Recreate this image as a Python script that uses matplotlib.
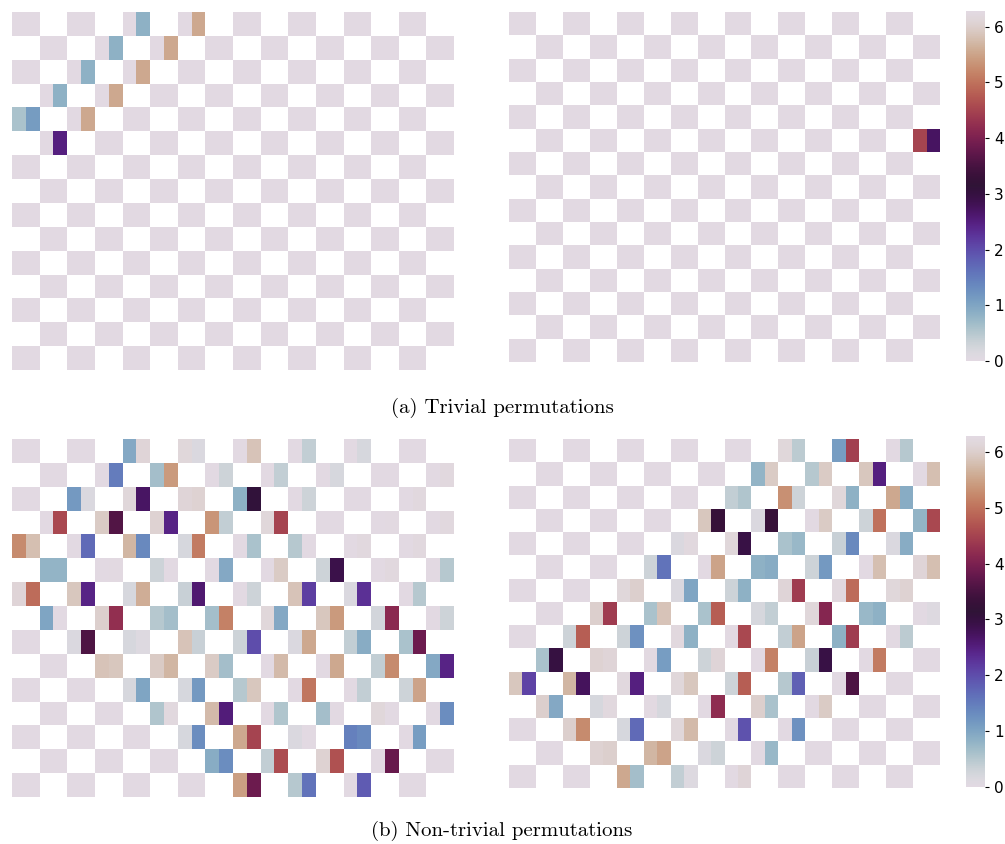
import numpy as np
import matplotlib
matplotlib.use("Agg")
import matplotlib.pyplot as plt

# Visible-cell values per row (the checkerboard hides every other 2-cell block)
TL = [
    [0, 0, 0, 0, 0, 0.85, 0, 5.55, 0, 0, 0, 0, 0, 0, 0, 0],
    [0, 0, 0, 0.85, 0, 5.55, 0, 0, 0, 0, 0, 0, 0, 0, 0, 0],
    [0, 0, 0, 0.85, 0, 5.55, 0, 0, 0, 0, 0, 0, 0, 0, 0, 0],
    [0, 0.85, 0, 5.55, 0, 0, 0, 0, 0, 0, 0, 0, 0, 0, 0, 0],
    [0.6, 1.12, 0, 5.55, 0, 0, 0, 0, 0, 0, 0, 0, 0, 0, 0, 0],
    [0, 2.5, 0, 0, 0, 0, 0, 0, 0, 0, 0, 0, 0, 0, 0, 0],
    [0] * 16, [0] * 16, [0] * 16, [0] * 16, [0] * 16,
    [0] * 16, [0] * 16, [0] * 16, [0] * 16,
]

TR = [
    [0] * 16, [0] * 16, [0] * 16, [0] * 16, [0] * 16,
    [0, 0, 0, 0, 0, 0, 0, 0, 0, 0, 0, 0, 0, 0, 4.5, 2.72],
    [0] * 16, [0] * 16, [0] * 16, [0] * 16, [0] * 16,
    [0] * 16, [0] * 16, [0] * 16, [0] * 16,
]

BL = [
    [0, 0, 0, 0, 0.95, 6.1, 6.15, 0.15, 0, 5.85, 0, 0.4, 0, 0.2, 0, 0],
    [0, 0, 0, 1.5, 0.65, 5.4, 0, 0.3, 0, 0.4, 0, 0.2, 0, 0, 0, 6.2],
    [0, 0, 1.15, 0.15, 6.15, 2.7, 6.1, 6.05, 0.85, 3.1, 0, 0.3, 0, 0, 0, 6.2],
    [0, 4.55, 5.95, 3.6, 6.05, 2.45, 5.35, 0.4, 6.15, 4.5, 0, 0, 0, 6.25, 0, 6.2],
    [5.25, 5.8, 0, 1.7, 5.7, 1.35, 0.2, 5.1, 0, 0.6, 0.5, 0, 0, 6.2, 0, 6.2],
    [0.8, 0.8, 0, 6.25, 0.3, 0, 0, 0.95, 0, 5.95, 0.3, 2.9, 0, 6.2, 0, 0.5],
    [6.1, 4.95, 5.9, 2.45, 0.2, 5.6, 0.35, 2.6, 0, 0.3, 5.85, 2.15, 0.15, 2.3, 0, 0.5],
    [1.0, 0, 6.0, 4.25, 0.5, 0.65, 0.65, 5.15, 6.15, 0.95, 5.9, 5.4, 0.25, 4.15, 0, 0.3],
    [0, 0, 0.15, 3.55, 0.2, 0.1, 5.85, 0.35, 0.3, 2.0, 0.15, 5.55, 0.4, 0.9, 0.6, 3.85],
    [0, 0, 5.85, 5.9, 5.95, 5.7, 5.95, 0.65, 0, 5.75, 0, 5.55, 0.4, 5.25, 0.95, 2.45],
    [0, 0, 0, 0, 0.2, 1.0, 0.2, 1.15, 0.5, 5.9, 0, 5.05, 0, 0.4, 0.3, 5.5],
    [0, 0, 0, 0, 0.55, 6.2, 5.75, 2.55, 0, 0.55, 0.65, 0, 6.15, 0, 0, 1.3],
    [0, 0, 0, 0, 0, 0, 0.2, 1.3, 5.55, 4.5, 0.15, 0, 1.45, 1.35, 0, 1.1],
    [0, 0, 0, 0, 0, 0, 0.9, 1.3, 0.4, 4.6, 6.05, 4.65, 0, 3.8, 0, 0],
    [0, 0, 0, 0, 0, 0, 0, 0, 5.45, 3.85, 0.5, 1.6, 0, 1.85, 0, 0],
]

BR = [
    [0, 0, 0, 0, 0, 0, 0, 0, 0, 0, 6.15, 0.45, 1.1, 4.45, 0, 0.5],
    [0, 0, 0, 0, 0, 0, 0, 0, 0.8, 5.95, 0.5, 5.95, 5.9, 2.5, 0, 5.8],
    [0, 0, 0, 0, 0, 0, 0, 0, 0.4, 0.55, 5.3, 0.3, 6.15, 0.85, 5.55, 0.9],
    [0, 0, 0, 0, 0, 0, 5.9, 3.3, 0.15, 3.3, 0, 5.95, 0.3, 5.0, 0.8, 4.55],
    [0, 0, 0, 0, 0, 0, 0.15, 6.2, 6.15, 2.95, 0.6, 0.75, 0.35, 1.35, 0.15, 0.9],
    [0, 0, 0, 0, 0.3, 1.6, 0, 5.5, 0.85, 0.9, 0.3, 1.15, 0, 5.8, 6.1, 5.8],
    [0, 0, 0, 0, 6.15, 6.0, 0.15, 1.0, 0.3, 0.85, 6.1, 4.4, 6.2, 4.95, 6.15, 6.05],
    [0, 0, 6.0, 4.4, 0.6, 5.85, 0.6, 4.8, 0.2, 0.4, 6.15, 4.1, 0.75, 0.85, 0, 0.1],
    [0, 0, 0.3, 4.8, 0.3, 1.25, 6.2, 0.85, 0, 4.55, 0.4, 5.5, 0.85, 4.4, 0, 0.45],
    [0.6, 3.0, 6.05, 6.1, 6.25, 1.1, 0.3, 6.1, 0, 5.15, 0.35, 2.95, 0, 5.1, 0, 0],
    [5.9, 2.1, 5.7, 2.75, 6.2, 2.5, 6.15, 5.9, 0.3, 4.8, 0.5, 1.8, 0, 3.55, 0, 0],
    [6.0, 0.95, 0.2, 6.2, 6.25, 0.2, 0, 4.2, 6.0, 0.6, 0, 5.95, 0, 0, 0, 0],
    [0, 0, 6.0, 5.25, 0.2, 1.7, 6.15, 5.75, 0, 1.95, 0, 1.25, 0, 0, 0, 0],
    [0, 0, 6.05, 6.0, 5.7, 5.5, 0.15, 0.3, 0, 0.75, 0, 0, 0, 0, 0, 0],
    [0, 0, 0, 0, 5.55, 0.65, 0.4, 0.1, 0, 6.1, 0, 0, 0, 0, 0, 0],
]

CBAR_TICKS = [0, 1, 2, 3, 4, 5, 6]
CAPTIONS = ["(a) Trivial permutations", "(b) Non-trivial permutations"]

VMAX = 2 * np.pi
W, H = 1005, 844


def build(rows):
    n_r = len(rows)
    n_c = 2 * len(rows[0])
    M = np.full((n_r, n_c), np.nan)
    for r, vals in enumerate(rows):
        cols = [c for c in range(n_c) if (c // 2 + r) % 2 == 0]
        M[r, cols] = vals
    return np.ma.masked_invalid(M)


def px_axes(fig, l, t, r, b):
    return fig.add_axes([l / W, 1 - b / H, (r - l) / W, (b - t) / H])


fig = plt.figure(figsize=(W / 100, H / 100), dpi=100)
cmap = plt.get_cmap("twilight")

panels = [
    (TL, (12, 12, 454, 370)),
    (TR, (509, 12, 940, 362)),
    (BL, (12, 439, 454, 797)),
    (BR, (509, 439, 940, 788)),
]
meshes = []
for data, box in panels:
    ax = px_axes(fig, *box)
    M = build(data)
    m = ax.pcolormesh(M, cmap=cmap, vmin=0, vmax=VMAX)
    ax.set_xlim(0, M.shape[1])
    ax.set_ylim(M.shape[0], 0)
    ax.axis("off")
    meshes.append(m)

for mesh, box in [(meshes[1], (966, 11, 985, 361)), (meshes[3], (966, 436, 985, 787))]:
    cax = px_axes(fig, *box)
    cb = fig.colorbar(mesh, cax=cax, ticks=CBAR_TICKS)
    cb.outline.set_visible(False)
    cax.tick_params(labelsize=11, length=3, width=0.8, pad=3.5)

fig.text(502 / W, 1 - 408 / H, CAPTIONS[0], ha="center", va="center",
         fontsize=15, family="cmr10")
fig.text(502 / W, 1 - 831 / H, CAPTIONS[1], ha="center", va="center",
         fontsize=15, family="cmr10")

fig.savefig("out.png", dpi=100)
